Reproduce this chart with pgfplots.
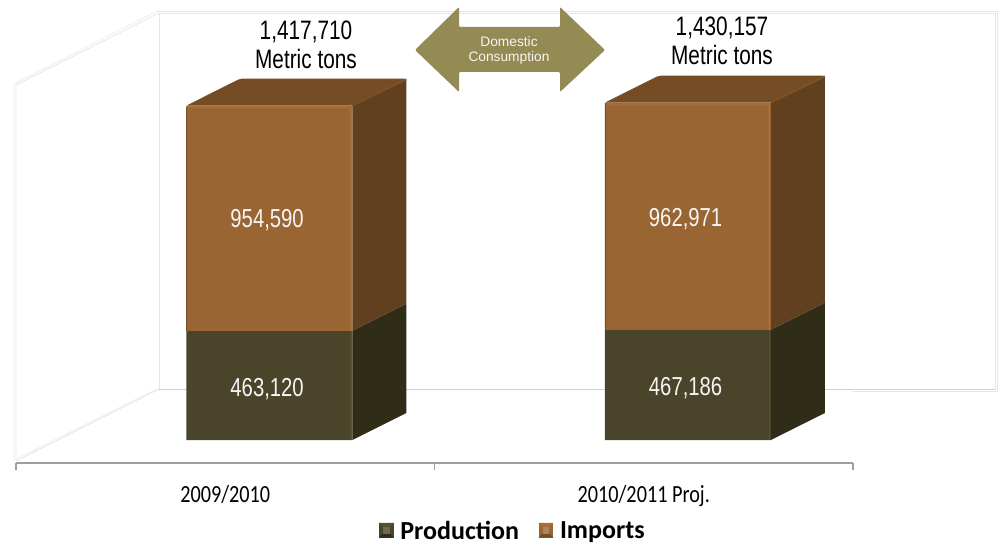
\documentclass[border=0pt]{standalone}
\usepackage{pgfplots}
\pgfplotsset{compat=1.18}
\usepackage{fontspec}
\setmainfont{Liberation Sans}
\newfontfamily\narrow[FakeStretch=0.78]{Liberation Sans}
\newfontfamily\cali[FakeStretch=0.82]{Carlito}
\newfontfamily\calib[BoldFont={Carlito Bold}]{Carlito}

\definecolor{impfront}{HTML}{996633}
\definecolor{impedge}{HTML}{A86E3A}
\definecolor{imptop}{HTML}{754C24}
\definecolor{impside}{HTML}{60401F}
\definecolor{profront}{HTML}{4A442A}
\definecolor{proedge}{HTML}{575030}
\definecolor{proside}{HTML}{2F2C18}
\definecolor{arrowc}{HTML}{948A54}
\definecolor{wall}{HTML}{E6E6E6}

% 1 reference pixel = 0.75pt; font sizes in pt
\newcommand{\pxfont}[1]{\fontsize{#1}{#1pt}\selectfont}
% bevelled legend key: top, left/right, bottom colours
\newcommand{\legkey}[3]{%
  \fill[#2] (0pt,-5pt) rectangle (11pt,6pt);
  \fill[#1] (0pt,6pt) -- (11pt,6pt) -- (8pt,3pt) -- (3pt,3pt) -- cycle;
  \fill[#3] (0pt,-5pt) -- (11pt,-5pt) -- (8pt,-2pt) -- (3pt,-2pt) -- cycle;
  \fill[#2!80!white] (3pt,-2pt) rectangle (8pt,3pt);}

\begin{document}
\begin{tikzpicture}
\path[use as bounding box] (0,0) rectangle (748.5pt,406.5pt);
\fill[white] (0,0) rectangle (748.5pt,406.5pt);

% walls and floor, in pixels from the top left
\begin{scope}[x=0.75pt,y=-0.75pt,yshift=406.5pt,draw=wall,line width=0.6pt]
  \draw (159,13) rectangle (995,389);
  \draw (157,11) -- (997,11) -- (997,391) -- (853,391);
  \draw (159,13) -- (16,85) -- (16,461) -- (159,389);
  \draw[draw=wall!70] (157,11) -- (14,84) -- (14,461);
  \draw[draw=wall!70] (157,389) -- (16,459);
  \draw[draw=black!18] (159,389) -- (995,389);
  % domestic consumption arrow
  \fill[arrowc,rounded corners=0.8pt] (415,50) -- (459,7) -- (459,27) -- (560,27) -- (560,7)
    -- (605,50) -- (560,92) -- (560,72) -- (459,72) -- (459,92) -- cycle;
\end{scope}

\begin{axis}[
  at={(12pt,59.25pt)}, anchor=south west,
  scale only axis,
  width=627.75pt, height=338.25pt,
  clip=false,
  xmin=-0.5, xmax=1.5,
  ymin=-97520, ymax=1814720,
  axis x line=bottom,
  axis y line=none,
  axis line style={draw=black!38,line width=0.8pt,-},
  xtick={0,1},
  xticklabels={2009/2010,2010/2011 Proj.},
  minor xtick={-0.5,0.5,1.5},
  major tick length=0pt,
  minor tick length=5.25pt,
  tick align=outside,
  minor tick style={draw=black!38,line width=0.8pt},
  xticklabel style={font=\cali\pxfont{18.5},yshift=-13pt},
  bar width=124.5pt,
  bar shift=0pt,
  legend columns=2,
  legend style={at={(0.594,-0.1505)},anchor=center,draw=none,fill=none,
    font=\calib\bfseries\pxfont{19.5},
    /tikz/every odd column/.style={column sep=3pt},
    /tikz/every even column/.style={column sep=12.75pt},
    inner sep=0pt},
]
% side and top faces
\addplot[forget plot,fill=proside,draw=none] coordinates {(0.3035,0) (0.4325,114480) (0.4325,577600) (0.3035,463120)} -- cycle;
\addplot[forget plot,fill=impside,draw=none] coordinates {(0.3035,463120) (0.4325,577600) (0.4325,1532190) (0.3035,1417710)} -- cycle;
\addplot[forget plot,fill=imptop,draw=none,rounded corners=1.5pt] coordinates {(-0.0932,1417710) (0.0358,1532190) (0.4325,1532190) (0.3035,1417710)} -- cycle;
\addplot[forget plot,fill=proside,draw=none] coordinates {(1.3035,0) (1.4325,114480) (1.4325,581666) (1.3035,467186)} -- cycle;
\addplot[forget plot,fill=impside,draw=none] coordinates {(1.3035,467186) (1.4325,581666) (1.4325,1544637) (1.3035,1430157)} -- cycle;
\addplot[forget plot,fill=imptop,draw=none,rounded corners=1.5pt] coordinates {(0.9068,1430157) (1.0358,1544637) (1.4325,1544637) (1.3035,1430157)} -- cycle;

% front faces
\addplot[ybar,stack plots=y,fill=profront,draw=none,
  legend image code/.code={\legkey{proedge}{profront}{proside}}]
  coordinates {(0.1052,463120) (1.1052,467186)};
\addlegendentry{Production}
\addplot[ybar,stack plots=y,fill=impfront,draw=none,
  legend image code/.code={\legkey{impedge}{impfront}{imptop}}]
  coordinates {(0.1052,954590) (1.1052,962971)};
\addlegendentry{Imports}

% bevel highlights on the edges
\addplot[forget plot,impedge,line width=1.5pt,rounded corners=1pt] coordinates {(-0.0900,1411000) (0.3000,1411000) (0.3000,463120)};
\addplot[forget plot,impedge,line width=1.5pt,rounded corners=1pt] coordinates {(0.9100,1423500) (1.3000,1423500) (1.3000,467186)};
\addplot[forget plot,proedge,line width=1.2pt] coordinates {(0.3000,463120) (0.3000,0)};
\addplot[forget plot,proedge,line width=1.2pt] coordinates {(1.3000,467186) (1.3000,0)};
\addplot[forget plot,imptop!85!impedge,line width=1.2pt] coordinates {(0.3035,1417710) (0.4325,1528000)};
\addplot[forget plot,imptop!85!impedge,line width=1.2pt] coordinates {(1.3035,1430157) (1.4325,1540500)};
\addplot[forget plot,imptop,line width=0.8pt] coordinates {(-0.0920,463120) (-0.0920,1412000)};
\addplot[forget plot,imptop,line width=0.8pt] coordinates {(0.9080,467186) (0.9080,1425000)};

% values inside the bars
\begin{scope}[every node/.style={text=white!96!black,font=\narrow\pxfont{19.5}}]
\node at (axis cs:0.1,214600) {463,120};
\node at (axis cs:0.1,932000) {954,590};
\node at (axis cs:1.1,220900) {467,186};
\node at (axis cs:1.1,936000) {962,971};
\end{scope}
\end{axis}

\begin{scope}[x=0.75pt,y=-0.75pt,yshift=406.5pt]
  \node[font=\narrow\pxfont{20},align=center,text=black] at (306,44.5) {1,417,710\\[1.5pt]Metric tons};
  \node[font=\narrow\pxfont{20},align=center,text=black] at (722,40.5) {1,430,157\\[1.5pt]Metric tons};
  \node[font=\pxfont{10.3},align=center,text=white!92!arrowc] at (509,50.5) {Domestic\\[1.5pt]Consumption};
\end{scope}
\end{tikzpicture}
\end{document}
